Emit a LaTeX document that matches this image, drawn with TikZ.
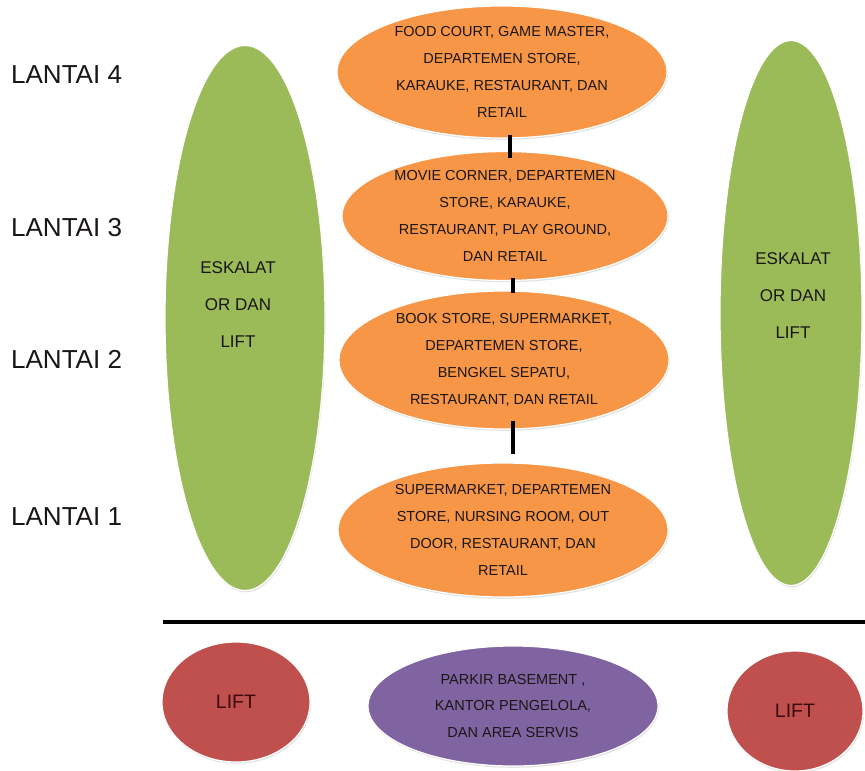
\documentclass[tikz,border=0pt]{standalone}
\usepackage{fontspec}
\setmainfont{Liberation Sans}
\usetikzlibrary{shapes.geometric,shadows}
\definecolor{orangeacc}{HTML}{F79646}
\definecolor{greenacc}{HTML}{9BBB59}
\definecolor{redacc}{HTML}{C0504D}
\definecolor{purpleacc}{HTML}{8064A2}
\definecolor{ink}{HTML}{1A1614}
\definecolor{liftink}{HTML}{3A0C0C}

\begin{document}
\begin{tikzpicture}[x=1pt,y=-1pt,
  blob/.style={ellipse, draw=white, line width=1.2pt, inner sep=0pt, align=center, text=ink,
    drop shadow={shadow xshift=0.8pt, shadow yshift=-1.8pt, opacity=0.22}},
  shop/.style={blob, fill=orangeacc, minimum width=330pt, minimum height=132pt,
    font=\fontsize{14.5}{27}\selectfont},
  escal/.style={blob, fill=greenacc, minimum height=545pt},
  esctext/.style={align=center, text=ink, inner sep=0pt, font=\fontsize{17}{37}\selectfont},
  lift/.style={blob, fill=redacc, minimum height=120pt, text=liftink,
    font=\fontsize{19.5}{24}\selectfont},
  base/.style={blob, fill=purpleacc, minimum width=290pt, minimum height=120pt,
    font=\fontsize{14.5}{27}\selectfont},
  floor/.style={anchor=west, inner sep=0pt, text=ink, font=\fontsize{26}{30}\selectfont},
  link/.style={draw=black, line width=3.6pt},
  divider/.style={draw=black, line width=3.5pt}
]
\useasboundingbox[fill=white] (0,0) rectangle (865,771);

% floor labels
\node[floor] (L4) at (11,75) {LANTAI 4};
\node[floor] (L3) at (11,228) {LANTAI 3};
\node[floor] (L2) at (11,359) {LANTAI 2};
\node[floor] (L1) at (11,517) {LANTAI 1};

% escalator and lift columns
\node[escal, minimum width=160pt] (GL) at (245,318) {};
\node[esctext] (GLt) at (238,305) {ESKALAT\\OR DAN\\LIFT};
\node[escal, minimum width=142pt] (GR) at (791,313) {};
\node[esctext] (GRt) at (793,296) {ESKALAT\\OR DAN\\LIFT};

% tenants per floor
\node[shop] (O4) at (502,72) {FOOD COURT, GAME MASTER,\\DEPARTEMEN STORE,\\KARAUKE, RESTAURANT, DAN\\RETAIL};
\node[shop, minimum width=326pt, minimum height=126pt] (O3) at (505,216) {MOVIE CORNER, DEPARTEMEN\\STORE, KARAUKE,\\RESTAURANT, PLAY GROUND,\\DAN RETAIL};
\node[shop, minimum height=138pt] (O2) at (504,360) {BOOK STORE, SUPERMARKET,\\DEPARTEMEN STORE,\\BENGKEL SEPATU,\\RESTAURANT, DAN RETAIL};
\node[shop, minimum height=134pt] (O1) at (503,530) {SUPERMARKET, DEPARTEMEN\\STORE, NURSING ROOM, OUT\\DOOR, RESTAURANT, DAN\\RETAIL};

% links between floors, all on one vertical axis
\coordinate (axisA) at (510,0);
\coordinate (axisB) at (513,0);
\coordinate (l4a) at ([yshift=4pt]O4.south);
\coordinate (l4b) at ([yshift=-7pt]O3.north);
\coordinate (l3a) at ([yshift=3pt]O3.south);
\coordinate (l3b) at ([yshift=-3pt]O2.north);
\coordinate (l2a) at ([yshift=9pt]O2.south);
\coordinate (l2b) at ([yshift=8pt]O1.north);
\draw[link] (l4a -| axisA) -- (l4b -| axisA);
\draw[link] (l3a -| axisB) -- (l3b -| axisB);
\draw[link] (l2a -| axisB) -- (l2b -| axisB);

% ground separator
\coordinate (DL) at (163,622);
\coordinate (DR) at (865,622);
\draw[divider] (DL) -- (DR);

% basement level
\node[lift, minimum width=148pt] (RL) at (236,702) {LIFT};
\node[base] (P) at (513,706) {PARKIR BASEMENT ,\\KANTOR PENGELOLA,\\DAN AREA SERVIS};
\node[lift, minimum width=136pt] (RR) at (795,711) {LIFT};
\end{tikzpicture}
\end{document}
